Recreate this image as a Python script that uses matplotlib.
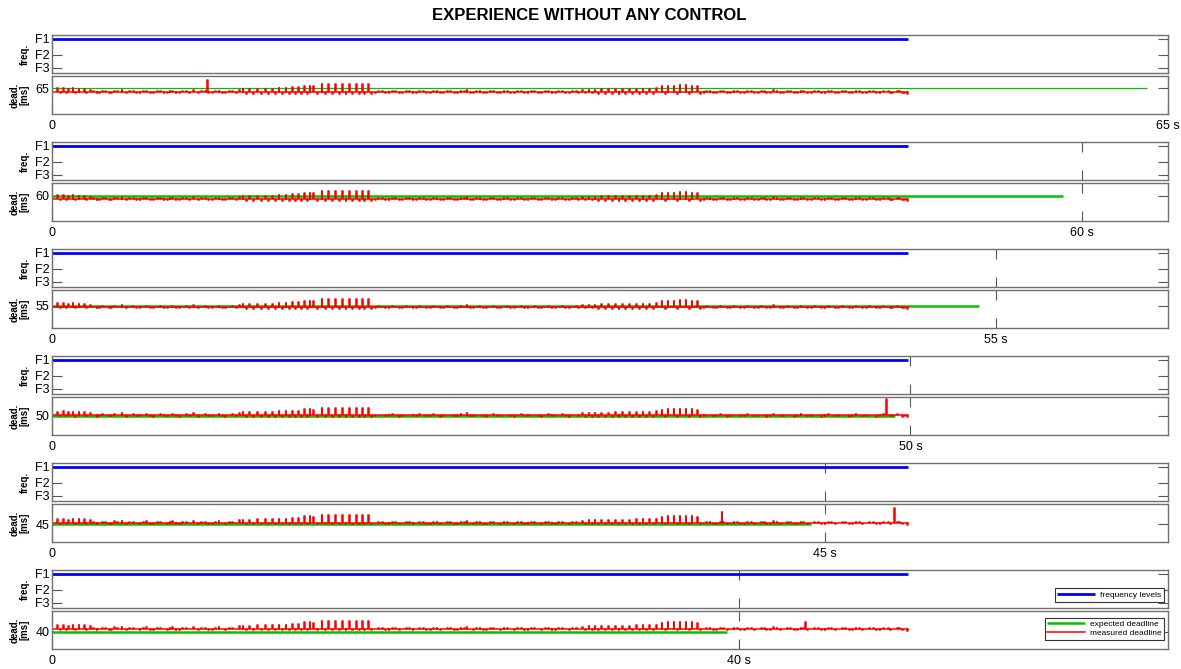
import matplotlib
matplotlib.use("Agg")
import matplotlib.pyplot as plt

plt.rcParams['font.family'] = ['Liberation Sans', 'DejaVu Sans']

# --- Data ---
DEADLINES = [65, 60, 55, 50, 45, 40]                   # ms, one experiment per row
EXPECTED_END = [63.8, 58.9, 54.0, 49.1, 44.2, 39.3]    # s, end of expected deadline line
RUN_END = 49.85                                        # s, end of the measured run
MEAS_BASE = [52, 49, 51, 52, 50, 51]                   # ms, usual measured deadline per row

FREQ_NAMES = ["F1", "F2", "F3"]
FREQ_MHZ = [1600, 1000, 520]
FREQ_USED = "F1"                                       # no control -> stays at F1

# spikes / dips of the measured deadline seen in every run (s, ms from baseline)
EVENT_T = [0.3, 0.45, 0.65, 0.8, 0.95, 1.2, 1.35, 1.55, 1.85, 2.0, 2.2,
           2.6, 2.9, 3.3, 3.6, 4.05, 4.3, 4.7, 5.1, 5.5, 5.9, 6.3, 6.7, 7.0, 7.4,
           7.8, 8.2, 8.5, 8.9, 9.3, 9.7, 10.1, 10.5,
           10.9, 11.1, 11.3, 11.5, 11.7, 11.96, 12.2, 12.4, 12.6, 12.8, 13.0, 13.2,
           13.4, 13.6, 13.8, 13.96, 14.15, 14.35, 14.5, 14.7, 14.85, 15.0, 15.2,
           15.45, 15.7, 15.9, 16.1, 16.3, 16.5, 16.7, 16.9, 17.1, 17.3, 17.5, 17.7,
           17.9, 18.04, 18.2, 18.4, 18.6,
           19.0, 19.4, 19.8, 20.2, 20.6, 21.0, 21.4, 21.8, 22.2, 22.6, 23.0, 23.4,
           23.8, 24.15, 24.5, 24.9, 25.3, 25.7, 26.1, 26.5, 26.9, 27.3, 27.7, 28.1,
           28.5, 28.9, 29.3, 29.7, 30.1, 30.5,
           30.85, 31.05, 31.25, 31.45, 31.6, 31.8, 32.0, 32.2, 32.4, 32.6, 32.8,
           33.0, 33.2, 33.4, 33.6, 33.8, 34.0, 34.2, 34.4, 34.6, 34.8, 35.0, 35.2,
           35.5, 35.7, 35.85, 36.2, 36.4, 36.55, 36.9, 37.1, 37.25, 37.55, 37.75,
           38.1, 38.5, 38.9, 39.3, 39.7, 40.1, 40.5, 40.9, 41.3, 41.6, 42.0, 42.4,
           42.8, 43.2, 43.6, 44.0, 44.4, 44.8, 45.2, 45.6, 46.0, 46.4, 46.8, 47.2,
           47.6, 48.0, 48.4, 48.8, 49.2, 49.5, 49.8]
EVENT_DMS = [13, -3, 14, -3, 10, 13, -4, 11, 12, -3, 8,
             -4, 4, -3, 5, 7, -4, 4, -3, 5, -4, 4, -3, 5, -4,
             4, 7, -4, 4, -3, 5, -4, 4,
             8, 10, -5, 10, -5, 11, -6, 12, -5, 12, -6, 14,
             -5, 14, -6, 16, -6, 16, -5, 22, -6, 22, 20,
             -6, 26, -6, 26, -6, 27, -6, 27, -6, 26, -6, 27,
             -6, 27, -6, 26, -5,
             3, -3, 4, -4, 3, -3, 4, -3, 4, -4, 3, -3,
             4, 7, -3, 3, -4, 4, -3, 3, -4, 4, -3, 3,
             -4, 4, -3, 4, -4, 3,
             7, -4, 8, -4, 8, -5, 9, -5, 9, -5, 10,
             -5, 10, -5, 10, -5, 11, -5, 12, -5, 12, -5, 14,
             20, -6, 22, 22, -6, 23, 23, -6, 22, 20, -5,
             3, -3, 4, -4, 3, -3, 4, -3, 3, -4, 6, -3,
             3, -4, 4, -3, 3, -4, 4, -3, 3, -4, 4, -3,
             3, -4, 4, -3, 4, -4, -7]

# small in-between wiggles in the quiet stretches (s, ms from baseline)
WIGGLE_T = [2.4, 2.75, 3.1, 3.45, 3.8, 4.5, 4.9, 5.3, 5.7, 6.1, 6.5, 6.85, 7.2,
            7.6, 8.0, 8.7, 9.1, 9.5, 9.9, 10.3, 10.7,
            18.8, 19.2, 19.6, 20.0, 20.4, 20.8, 21.2, 21.6, 22.0, 22.4, 22.8, 23.2,
            23.6, 24.0, 24.35, 24.7, 25.1, 25.5, 25.9, 26.3, 26.7, 27.1, 27.5, 27.9,
            28.3, 28.7, 29.1, 29.5, 29.9, 30.3, 30.65,
            37.95, 38.3, 38.7, 39.1, 39.5, 39.9, 40.3, 40.7, 41.1, 41.45, 41.8, 42.2,
            42.6, 43.0, 43.4, 43.75, 44.2, 44.6, 45.0, 45.4, 45.8, 46.2, 46.6, 47.0,
            47.4, 47.8, 48.2, 48.7, 48.95, 49.35, 49.65]
WIGGLE_DMS = [2, -2, 2, -3, 2, 2, -2, 2, -3, 2, -2, 2, -3,
              2, -2, 2, -3, 2, -2, 2, -2,
              -2, 2, -3, 2, -2, 2, -2, 2, -3, 2, -2, 2,
              -3, 2, -2, 2, -3, 2, -2, 2, -2, 2, -3, 2,
              -2, 2, -3, 2, -2, 2, -2,
              -2, 2, -3, 2, -2, 2, -3, 2, -2, 2, -3, 2,
              -2, 2, -3, 2, -2, 2, -3, 2, -2, 2, -3, 2,
              -2, 2, -3, 2, -2, 2, -2]

# spikes seen in only one run
EXTRA_ROW = [0, 3, 4, 4, 5]
EXTRA_T = [9.03, 48.57, 39.0, 49.06, 43.85]
EXTRA_DMS = [40, 55, 38, 52, 24]

# --- Layout / style ---
W, H = 1181, 669
LEFT, RIGHT = 52, 1168
ROW_TOP = [35, 142, 249, 356, 463, 570]
PANEL_H = 38
GAP = 3
FRAME = 0.05
FREQ_YLIM = (336, 1734)
DEAD_YLIM_LO = [-23, -26, -20.5, -15, -16, -18.5]
DEAD_SPAN = 130
SPINE = '#707070'
TICK = '#555555'
BLUE, GREEN, RED = '#0000ff', '#00c400', '#ff0000'


def red_trace(row):
    ev = list(zip(EVENT_T, EVENT_DMS)) + list(zip(WIGGLE_T, WIGGLE_DMS))
    ev += [(t, d) for r, t, d in zip(EXTRA_ROW, EXTRA_T, EXTRA_DMS) if r == row]
    ev.sort()
    base = MEAS_BASE[row]
    xs, ys = [0], [base]
    for t, d in ev:
        xs += [t, t, t + FRAME, t + FRAME]
        ys += [base, base + d, base + d, base]
    xs.append(RUN_END)
    ys.append(base)
    return xs, ys


def px_axes(top, bottom):
    return fig.add_axes([LEFT / W, 1 - bottom / H, (RIGHT - LEFT) / W, (bottom - top) / H])


def style(ax):
    for s in ax.spines.values():
        s.set_color(SPINE)
        s.set_linewidth(1.0)
    ax.tick_params(direction='in', length=7, width=0.8, color=TICK,
                   top=True, right=True, labelsize=9)
    ax.tick_params(axis='y', pad=2)
    ax.tick_params(axis='x', pad=4)
    ax.set_xlim(0, 65)


fig = plt.figure(figsize=(W / 100, H / 100), dpi=100)
fig.text(589.5 / W, 1 - 15 / H, "EXPERIENCE WITHOUT ANY CONTROL",
         ha='center', va='center', fontsize=12, fontweight='bold')

freq_val = dict(zip(FREQ_NAMES, FREQ_MHZ))

for row, D in enumerate(DEADLINES):
    top = ROW_TOP[row]

    # frequency panel
    axf = px_axes(top, top + PANEL_H)
    style(axf)
    fl, = axf.plot([0, RUN_END], [freq_val[FREQ_USED]] * 2, color=BLUE, lw=2.0,
                   solid_capstyle='butt', label="frequency levels")
    axf.set_ylim(*FREQ_YLIM)
    axf.set_yticks(FREQ_MHZ)
    axf.set_yticklabels(FREQ_NAMES)
    axf.set_xticks([0, D])
    axf.tick_params(axis='x', labelbottom=False)
    fig.text(25 / W, 1 - (top + PANEL_H / 2) / H, "freq.", rotation=90,
             ha='center', va='center', fontsize=7, fontweight='bold')

    # deadline panel
    dtop = top + PANEL_H + GAP
    axd = px_axes(dtop, dtop + PANEL_H)
    style(axd)
    gl, = axd.plot([0, EXPECTED_END[row]], [D, D], color=GREEN,
                   lw=0.9 if row == 0 else 1.8, solid_capstyle='butt',
                   label="expected deadline")
    xs, ys = red_trace(row)
    rl, = axd.plot(xs, ys, color=RED, lw=1.1, label="measured deadline")
    lo = DEAD_YLIM_LO[row]
    axd.set_ylim(lo, lo + DEAD_SPAN)
    axd.set_yticks([D])
    axd.set_yticklabels([str(D)])
    axd.set_xticks([0, D])
    axd.set_xticklabels(["0", f"{D} s"])
    fig.text(20 / W, 1 - (dtop + PANEL_H / 2) / H, "dead.\n[ms]", rotation=90,
             ha='center', va='center', fontsize=7, fontweight='bold',
             multialignment='center', linespacing=1.0)

    if row == len(DEADLINES) - 1:
        lg = axf.legend(handles=[fl], loc='lower right', bbox_to_anchor=(0.9964, 0.16),
                        borderaxespad=0, fontsize=6, handlelength=4.5,
                        borderpad=0.35, handletextpad=0.6, fancybox=False,
                        framealpha=1, edgecolor='#333333')
        lg.get_frame().set_linewidth(0.8)
        lg = axd.legend(handles=[gl, rl], loc='upper right', bbox_to_anchor=(0.9964, 0.82),
                        borderaxespad=0, fontsize=6, handlelength=4.5,
                        borderpad=0.3, labelspacing=0.15, handletextpad=0.6,
                        fancybox=False, framealpha=1, edgecolor='#333333')
        lg.get_frame().set_linewidth(0.8)

fig.savefig("out.png", dpi=100)
